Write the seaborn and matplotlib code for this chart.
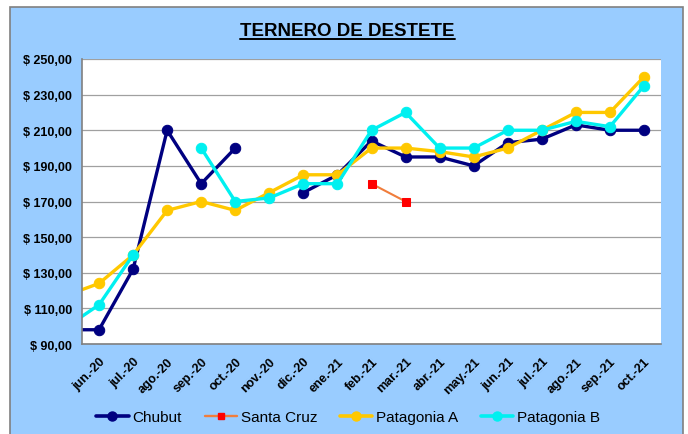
import numpy as np
import pandas as pd
import matplotlib
matplotlib.use('Agg')
import matplotlib.pyplot as plt
from matplotlib.lines import Line2D
from matplotlib.patches import Rectangle
import seaborn as sns


# Months (first one sits just off the left edge, only its line stub shows)
months = ['may.-20', 'jun.-20', 'jul.-20', 'ago.-20', 'sep.-20', 'oct.-20', 'nov.-20',
          'dic.-20', 'ene.-21', 'feb.-21', 'mar.-21', 'abr.-21', 'may.-21',
          'jun.-21', 'jul.-21', 'ago.-21', 'sep.-21', 'oct.-21']

chubut = [98, 98, 132, 210, 180, 200, np.nan, 175, 185, 204, 195, 195, 190,
          203, 205, 213, 210, 210]
santa_cruz = [np.nan, np.nan, np.nan, np.nan, np.nan, np.nan, np.nan, np.nan, np.nan,
              180, 170, np.nan, np.nan, np.nan, np.nan, np.nan, np.nan, np.nan]
patagonia_a = [117, 124, 140, 165, 170, 165, 175, 185, 185, 200, 200, 198, 195,
               200, 210, 220, 220, 240]
patagonia_b = [99, 112, 140, np.nan, 200, 170, 172, 180, 180, 210, 220, 200, 200,
               210, 210, 215, 212, 235]

series = {'Chubut': chubut, 'Santa Cruz': santa_cruz,
          'Patagonia A': patagonia_a, 'Patagonia B': patagonia_b}

styles = {
    'Chubut': dict(color='#000080', marker='o', mfc='#000080', lw=2.4, ms=7.5),
    'Santa Cruz': dict(color='#F07D3C', marker='s', mfc='#FF0000', lw=1.5, ms=6),
    'Patagonia A': dict(color='#FFC800', marker='o', mfc='#FFC800', lw=2.4, ms=7.5),
    'Patagonia B': dict(color='#00F0F0', marker='o', mfc='#00F0F0', lw=2.4, ms=7.5),
}


def build_frame():
    rows = []
    for name, vals in series.items():
        seg = 0
        prev_nan = True
        for i, v in enumerate(vals):
            if np.isnan(v):
                prev_nan = True
                continue
            if prev_nan:
                seg += 1
                prev_nan = False
            rows.append({'serie': name, 'x': i - 1, 'valor': v, 'seg': seg})
    return pd.DataFrame(rows)


df = build_frame()

sns.set_style('white')
plt.rcParams['font.family'] = ['Liberation Sans', 'DejaVu Sans']
plt.rcParams['text.color'] = 'black'
plt.rcParams['xtick.color'] = 'black'
plt.rcParams['ytick.color'] = 'black'

bg = '#99CCFF'
fig = plt.figure(figsize=(6.88, 4.35), dpi=100)
fig.patch.set_facecolor('white')
fig.patches.append(Rectangle((10 / 688, -0.01), 673 / 688, 1 - 8 / 435 + 0.01,
                             transform=fig.transFigure, facecolor=bg,
                             edgecolor='#808080', linewidth=1.2, zorder=-1))

ax = fig.add_axes([82 / 688, 1 - 345 / 435, 579 / 688, 285 / 435])
ax.set_zorder(2)
ax.set_facecolor('white')

for name in series:
    st = styles[name]
    sub = df[df.serie == name]
    sns.lineplot(data=sub, x='x', y='valor', units='seg', estimator=None, ax=ax,
                 color=st['color'], marker=st['marker'], markersize=st['ms'],
                 markerfacecolor=st['mfc'], markeredgecolor=st['mfc'],
                 linewidth=st['lw'], legend=False)

ax.set_xlim(-0.5, 16.5)
ax.set_ylim(90, 250)
ax.set_yticks(np.arange(90, 251, 20))
ax.set_yticklabels(['$ %d,00' % v for v in range(90, 251, 20)],
                   fontsize=9, fontweight='bold')
ax.set_xticks(range(17))
ax.set_xticklabels(months[1:], rotation=45, ha='right', rotation_mode='anchor',
                   fontsize=9, fontweight='bold')
ax.tick_params(axis='y', length=0, pad=7)
ax.tick_params(axis='x', length=0, pad=8)
ax.set_xlabel('')
ax.set_ylabel('')
ax.grid(axis='y', color='#A0A0A0', linewidth=0.9)
ax.grid(axis='x', visible=False)
for s in ['top', 'right']:
    ax.spines[s].set_visible(False)
for s in ['left', 'bottom']:
    ax.spines[s].set_color('#808080')
    ax.spines[s].set_linewidth(1.2)

# Title with underline
title = fig.text(0.505, 1 - 32 / 435, 'TERNERO DE DESTETE', ha='center', va='center',
                 fontsize=13.5, fontweight='bold')
fig.canvas.draw()
bb = title.get_window_extent().transformed(fig.transFigure.inverted())
fig.add_artist(Line2D([bb.x0, bb.x1], [bb.y0 + 0.002, bb.y0 + 0.002],
                      transform=fig.transFigure, color='black', linewidth=1.4))

handles = []
for name in series:
    st = styles[name]
    handles.append(Line2D([], [], color=st['color'], marker=st['marker'],
                          markerfacecolor=st['mfc'], markeredgecolor=st['mfc'],
                          markersize=st['ms'] - 1, linewidth=st['lw'] + 0.2))
fig.legend(handles, list(series), loc='center', bbox_to_anchor=(0.506, 1 - 418 / 435),
           ncol=4, frameon=False, fontsize=11, handlelength=2.1, handletextpad=0.25,
           columnspacing=1.5)

fig.savefig('out.png', dpi=100, facecolor=fig.get_facecolor())
